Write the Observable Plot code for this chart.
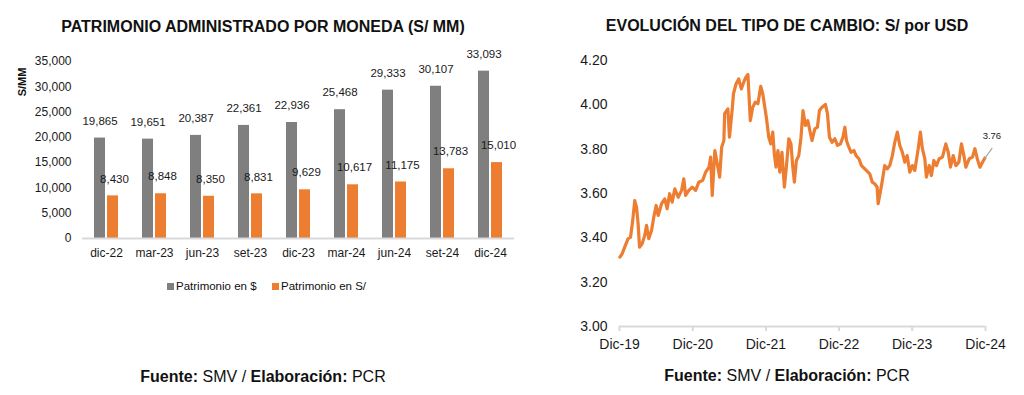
<!DOCTYPE html>
<html>
<head>
<meta charset="utf-8">
<script src="https://cdn.jsdelivr.net/npm/d3@7"></script>
<script src="https://cdn.jsdelivr.net/npm/@observablehq/plot@0.6"></script>
<style>
  html, body { margin: 0; padding: 0; background: #fff; }
  body { width: 1024px; height: 395px; position: relative; overflow: hidden; font-family: "Liberation Sans", Arial, sans-serif; color: #111; }
  .abs { position: absolute; }
  .title { font-weight: bold; font-size: 16px; white-space: nowrap; transform: translate(-50%, -50%); }
  .foot { font-size: 16px; white-space: nowrap; transform: translate(-50%, -50%); }
  .foot b { font-weight: bold; }
  .leg { font-size: 11.5px; white-space: nowrap; display: flex; align-items: center; transform: translateY(-50%); }
  .sw { width: 7px; height: 7px; display: inline-block; margin-right: 2px; }
  .ylab { font-weight: bold; font-size: 11px; transform: translate(-50%, -50%) rotate(-90deg); white-space: nowrap; }
</style>
</head>
<body>
<div class="abs title" style="left:263px; top:27px;">PATRIMONIO ADMINISTRADO POR MONEDA (S/ MM)</div>
<div class="abs title" style="left:787px; top:26px;">EVOLUCIÓN DEL TIPO DE CAMBIO: S/ por USD</div>
<div class="abs ylab" style="left:22px; top:82px;">S/MM</div>
<div id="left" class="abs" style="left:0px; top:40px;"></div>
<div id="right" class="abs" style="left:520px; top:40px;"></div>
<div class="abs leg" style="left:167px; top:286px;"><span class="sw" style="background:#7f7f7f"></span>Patrimonio en $</div>
<div class="abs leg" style="left:272px; top:286px;"><span class="sw" style="background:#ed7d31"></span>Patrimonio en S/</div>
<div class="abs foot" style="left:263px; top:377px;"><b>Fuente:</b> SMV / <b>Elaboración:</b> PCR</div>
<div class="abs foot" style="left:787px; top:376px;"><b>Fuente:</b> SMV / <b>Elaboración:</b> PCR</div>
<script>
// ---- Left chart data ----
const categories = ["dic-22","mar-23","jun-23","set-23","dic-23","mar-24","jun-24","set-24","dic-24"];
const patrimonioUSD = [19865,19651,20387,22361,22936,25468,29333,30107,33093];
const patrimonioPEN = [8430,8848,8350,8831,9629,10617,11175,13783,15010];
const leftYTicks = [0,5000,10000,15000,20000,25000,30000,35000];

// ---- Right chart data (S/ por USD) ----
const fxDates = [
"2020-01-02","2020-01-13","2020-01-26","2020-02-12","2020-02-24","2020-03-06","2020-03-16","2020-03-25","2020-04-02","2020-04-09",
"2020-04-22","2020-05-05","2020-05-14","2020-05-25","2020-06-08","2020-06-19","2020-07-01","2020-07-11","2020-07-28","2020-08-13",
"2020-08-25","2020-09-06","2020-09-19","2020-10-02","2020-10-19","2020-11-05","2020-11-16","2020-11-25","2020-12-11","2020-12-28",
"2021-01-14","2021-01-30","2021-02-18","2021-03-05","2021-03-22","2021-03-30","2021-04-07","2021-04-20","2021-05-02","2021-05-14",
"2021-05-24","2021-06-04","2021-06-08","2021-06-24","2021-07-02","2021-07-15","2021-07-22","2021-08-04","2021-08-17","2021-08-30",
"2021-09-11","2021-09-22","2021-10-02","2021-10-14","2021-10-26","2021-11-08","2021-11-21","2021-12-05","2021-12-15","2021-12-24",
"2022-01-03","2022-01-14","2022-01-24","2022-02-03","2022-02-11","2022-02-19","2022-03-01","2022-03-10","2022-03-21","2022-04-02",
"2022-04-12","2022-04-24","2022-05-05","2022-05-14","2022-05-22","2022-06-01","2022-06-13","2022-06-24","2022-07-04","2022-07-16",
"2022-07-28","2022-08-07","2022-08-18","2022-09-01","2022-09-14","2022-09-24","2022-10-07","2022-10-24","2022-11-03","2022-11-13",
"2022-11-26","2022-12-10","2022-12-23","2023-01-07","2023-01-19","2023-01-29","2023-02-06","2023-02-18","2023-03-01","2023-03-15",
"2023-03-26","2023-04-09","2023-04-22","2023-05-16","2023-06-02","2023-06-15","2023-06-27","2023-07-09","2023-07-14","2023-07-25",
"2023-08-04","2023-08-16","2023-08-28","2023-09-10","2023-09-23","2023-10-05","2023-10-18","2023-10-30","2023-11-12","2023-11-24",
"2023-12-06","2023-12-19","2024-01-01","2024-01-13","2024-01-30","2024-02-10","2024-02-20","2024-03-03","2024-03-11","2024-03-25",
"2024-04-05","2024-04-17","2024-04-30","2024-05-14","2024-05-30","2024-06-16","2024-06-28","2024-07-09","2024-07-23","2024-08-05",
"2024-08-20","2024-09-02","2024-09-14","2024-09-24","2024-10-11","2024-10-27","2024-11-08","2024-11-20","2024-12-03","2024-12-16",
"2024-12-28"];
const fxValues = [
3.313,3.328,3.358,3.396,3.403,3.478,3.568,3.538,3.463,3.358,
3.373,3.411,3.456,3.396,3.433,3.493,3.546,3.501,3.554,3.576,
3.531,3.599,3.561,3.621,3.583,3.614,3.666,3.591,3.614,3.629,
3.614,3.651,3.659,3.696,3.719,3.764,3.591,3.794,3.734,3.674,
3.809,3.839,3.960,3.982,3.854,3.974,4.050,4.095,4.117,4.072,
4.102,4.125,4.137,3.929,3.989,4.012,4.005,4.083,4.050,3.997,
3.937,3.854,3.824,3.877,3.779,3.719,3.794,3.696,3.786,3.629,
3.719,3.847,3.824,3.719,3.651,3.749,3.771,3.854,3.974,3.907,
3.929,3.884,3.839,3.892,3.899,3.974,3.989,4.002,3.960,3.854,
3.831,3.847,3.817,3.824,3.854,3.899,3.839,3.809,3.786,3.794,
3.771,3.757,3.726,3.704,3.689,3.651,3.644,3.629,3.554,3.606,
3.659,3.726,3.711,3.726,3.771,3.831,3.877,3.817,3.786,3.741,
3.771,3.696,3.726,3.704,3.802,3.877,3.802,3.757,3.674,3.726,
3.681,3.749,3.726,3.757,3.764,3.824,3.786,3.719,3.771,3.726,
3.741,3.824,3.771,3.719,3.757,3.764,3.802,3.757,3.719,3.741,
3.760];
const rightXTicks = ["2019-12-31","2020-12-31","2021-12-31","2022-12-31","2023-12-31","2024-12-31"];
const rightXTickLabels = ["Dic-19","Dic-20","Dic-21","Dic-22","Dic-23","Dic-24"];
const rightYTicks = [3.0,3.2,3.4,3.6,3.8,4.0,4.2];

const GRAY = "#7f7f7f", ORANGE = "#ed7d31", AXIS = "#d9d9d9", TXT = "#1a1a1a";
const FONT = "'Liberation Sans', Arial, sans-serif";

const bars = categories.map((c, i) => ({cat: c, usd: patrimonioUSD[i], pen: patrimonioPEN[i]}));
const fmt = d3.format(",");

const left = Plot.plot({
  width: 520, height: 230,
  marginLeft: 82, marginRight: 6, marginTop: 21, marginBottom: 32,
  style: {fontFamily: FONT, color: TXT, background: "transparent"},
  x: {domain: categories, padding: 0, label: null},
  y: {domain: [0, 35000], label: null},
  marks: [
    Plot.axisY({ticks: leftYTicks, tickFormat: fmt, tickSize: 0, tickPadding: 11, fontSize: 12, label: null}),
    Plot.axisX({tickSize: 0, tickPadding: 9.5, fontSize: 12, label: null}),
    Plot.barY(bars, {x: "cat", y: "usd", fill: GRAY, insetLeft: 12, insetRight: 25}),
    Plot.barY(bars, {x: "cat", y: "pen", fill: ORANGE, insetLeft: 25, insetRight: 12}),
    Plot.ruleY([0], {stroke: AXIS, strokeWidth: 2}),
    Plot.text(bars, {x: "cat", y: "usd", text: d => fmt(d.usd), dx: -6.5, dy: -17, fontSize: 11.5, fill: TXT}),
    Plot.text(bars, {x: "cat", y: "pen", text: d => fmt(d.pen), dx: 8, dy: -17, fontSize: 11.5, fill: TXT})
  ]
});
document.getElementById("left").appendChild(left);

const fx = fxDates.map((d, i) => ({date: new Date(d + "T00:00:00Z"), value: fxValues[i]}));
const last = [fx[fx.length - 1]];
const tickDates = rightXTicks.map(d => new Date(d + "T00:00:00Z"));

const right = Plot.plot({
  width: 504, height: 320,
  marginLeft: 99, marginRight: 39, marginTop: 20, marginBottom: 34,
  style: {fontFamily: FONT, color: TXT, background: "transparent"},
  x: {type: "utc", domain: [tickDates[0], tickDates[tickDates.length - 1]], label: null},
  y: {domain: [3.0, 4.2], label: null},
  marks: [
    Plot.axisY({ticks: rightYTicks, tickFormat: d3.format(".2f"), tickSize: 0, tickPadding: 12, fontSize: 14, label: null}),
    Plot.ruleY([3.0], {stroke: AXIS, strokeWidth: 2}),
    Plot.axisX({ticks: tickDates, tickFormat: (d, i) => rightXTickLabels[i], tickSize: 5, tickPadding: 8, fontSize: 14, stroke: AXIS, strokeWidth: 2, fill: TXT, label: null}),
    Plot.line(fx, {x: "date", y: "value", stroke: ORANGE, strokeWidth: 3.2, strokeLinejoin: "round", strokeLinecap: "round"}),
    Plot.vector(last, {x: "date", y: "value", length: 12, rotate: 36, anchor: "start", stroke: "#a6a6a6", strokeWidth: 1.2,
      shape: {draw(ctx, l) { ctx.moveTo(0, 0); ctx.lineTo(0, -l); }}}),
    Plot.text(last, {x: "date", y: "value", text: d => d.value.toFixed(2), dx: 7, dy: -22, fontSize: 9.5, fill: TXT})
  ]
});
document.getElementById("right").appendChild(right);
</script>
</body>
</html>
